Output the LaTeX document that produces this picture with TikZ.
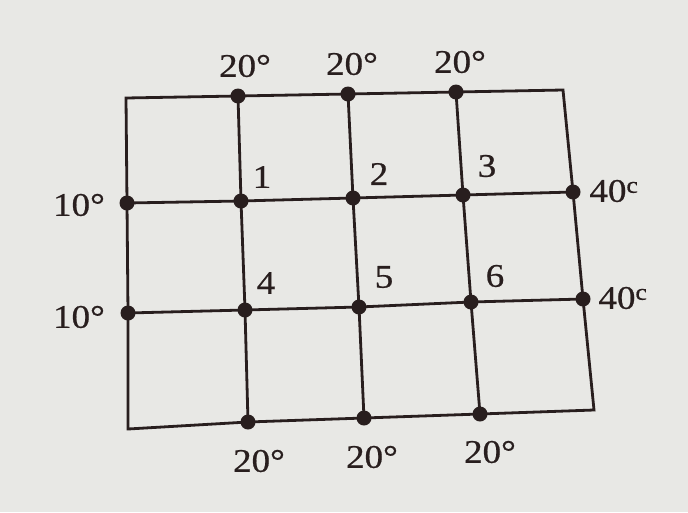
\documentclass[tikz,border=0pt]{standalone}
\usepackage{fontspec}
\usepackage{graphicx}
\setmainfont{Liberation Serif}
\newfontfamily\labfont{Liberation Serif}[FakeBold=0.6]
\definecolor{ink}{RGB}{40,30,30}
\definecolor{paper}{RGB}{232,232,229}
\newcommand{\lbl}[1]{\scalebox{1.12}[1]{#1}}
\begin{document}
\begin{tikzpicture}[x=1pt,y=-1pt,
  gridline/.style={draw=ink,line width=2.8pt,line join=miter},
  dot/.style={circle,fill=ink,inner sep=0pt,minimum size=15pt},
  lab/.style={text=ink,inner sep=0pt,font=\labfont\fontsize{33}{36}\selectfont}]
\fill[paper] (0,0) rectangle (688,512);
\useasboundingbox (0,0) rectangle (688,512);
% grid points
\coordinate (TL) at (126,98);  \coordinate (T1) at (238,96);  \coordinate (T2) at (348,94);  \coordinate (T3) at (456,92);  \coordinate (TR) at (563,90);
\coordinate (L1) at (127,203); \coordinate (N1) at (241,201); \coordinate (N2) at (353,198); \coordinate (N3) at (463,195); \coordinate (R1) at (573,192);
\coordinate (L2) at (128,313); \coordinate (N4) at (245,310); \coordinate (N5) at (359,307); \coordinate (N6) at (471,302); \coordinate (R2) at (583,299);
\coordinate (BL) at (128,429); \coordinate (B1) at (248,422); \coordinate (B2) at (364,418); \coordinate (B3) at (480,414); \coordinate (BR) at (594,410);
% lines
\draw[gridline] (TL) -- (T1) -- (T2) -- (T3) -- (TR) -- (R1) -- (R2) -- (BR) -- (B3) -- (B2) -- (B1) -- (BL) -- (L2) -- (L1) -- cycle;
\draw[gridline] (L1) -- (N1) -- (N2) -- (N3) -- (R1);
\draw[gridline] (L2) -- (N4) -- (N5) -- (N6) -- (R2);
\draw[gridline] (T1) -- (N1) -- (N4) -- (B1);
\draw[gridline] (T2) -- (N2) -- (N5) -- (B2);
\draw[gridline] (T3) -- (N3) -- (N6) -- (B3);
% dots
\foreach \p in {T1,T2,T3,L1,N1,N2,N3,R1,L2,N4,N5,N6,R2,B1,B2,B3}
  \node[dot] (d\p) at (\p) {};
% labels
\node[lab] (t1) at (245,66) {\lbl{20°}};
\node[lab] (t2) at (352,64) {\lbl{20°}};
\node[lab] (t3) at (460,62) {\lbl{20°}};
\node[lab] (l1) at (79,205) {\lbl{10°}};
\node[lab] (l2) at (79,317) {\lbl{10°}};
\node[lab] (r1) at (614,191) {\lbl{40\textsuperscript{c}}};
\node[lab] (r2) at (623,298) {\lbl{40\textsuperscript{c}}};
\node[lab] (b1) at (259,461) {\lbl{20°}};
\node[lab] (b2) at (372,457) {\lbl{20°}};
\node[lab] (b3) at (490,452) {\lbl{20°}};
\node[lab] (n1) at (262,177) {\lbl{1}};
\node[lab] (n2) at (379,174) {\lbl{2}};
\node[lab] (n3) at (487,166) {\lbl{3}};
\node[lab] (n4) at (266,283) {\lbl{4}};
\node[lab] (n5) at (384,277) {\lbl{5}};
\node[lab] (n6) at (495,276) {\lbl{6}};
\end{tikzpicture}
\end{document}
